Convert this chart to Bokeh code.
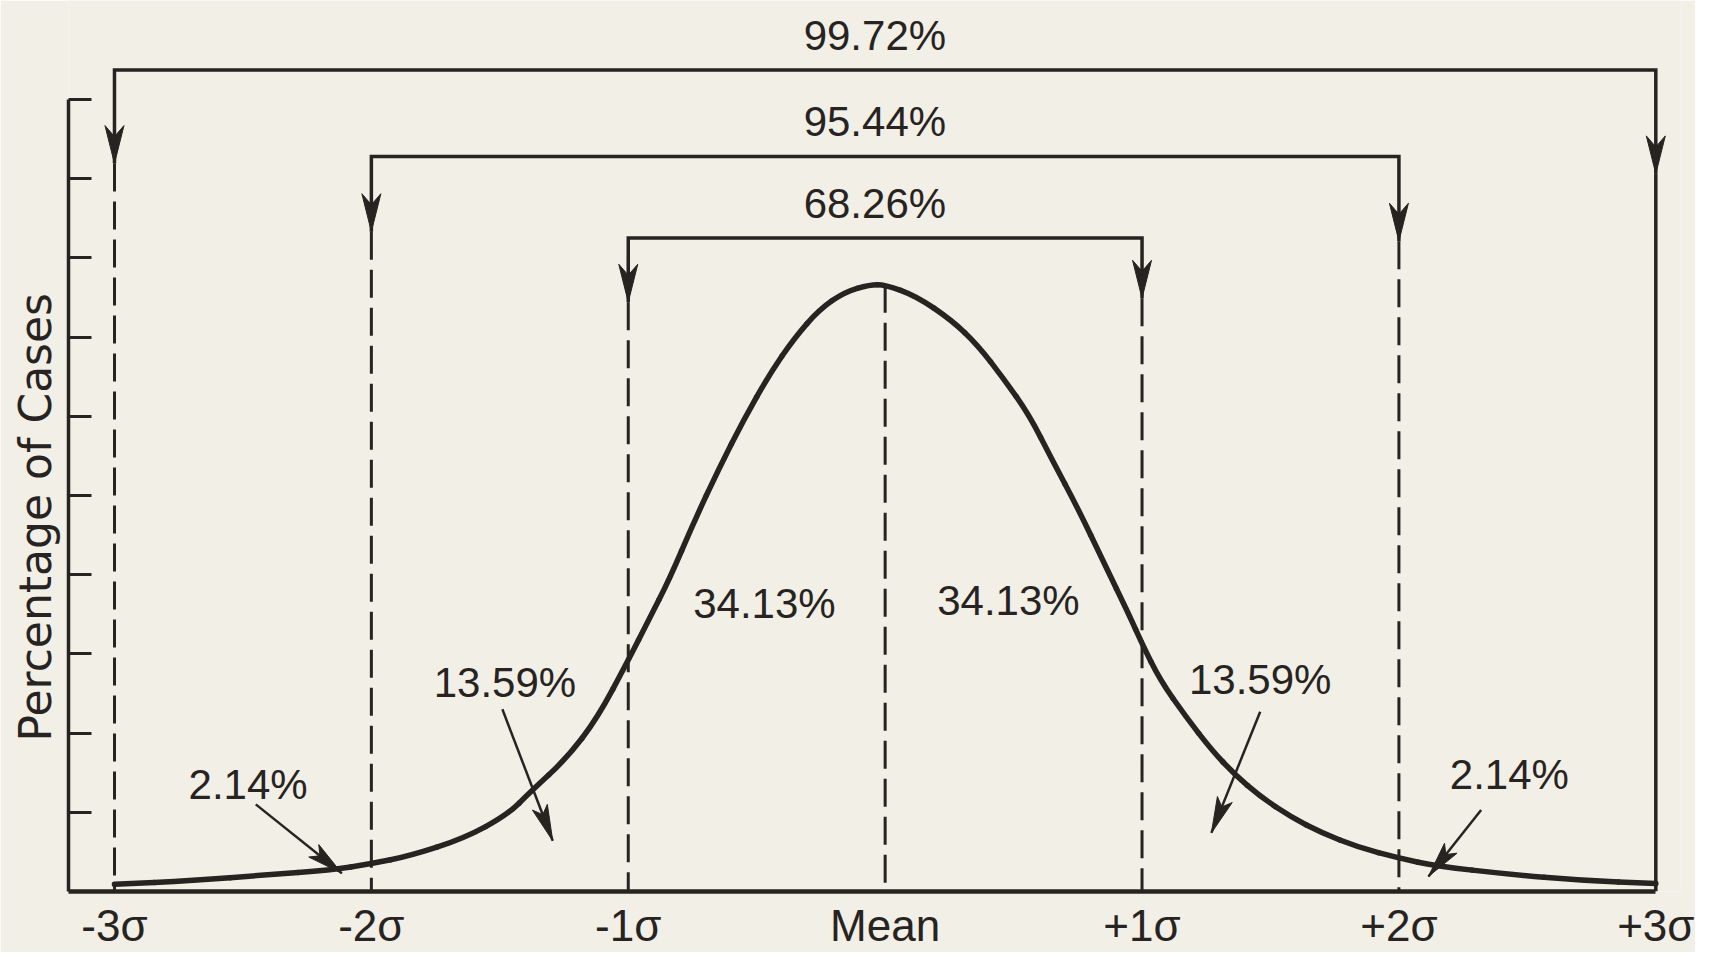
import numpy as np
from bokeh.plotting import figure
from bokeh.models import FixedTicker, Title
from bokeh.core.properties import value
from bokeh.embed import file_html
from bokeh.resources import INLINE

# ---------------- data ----------------
sigma_ticks = [-3, -2, -1, 0, 1, 2, 3]
sigma_labels = ["-3σ", "-2σ", "-1σ", "Mean", "+1σ", "+2σ", "+3σ"]

curve_x = [-3.0, -2.69, -2.41, -2.16, -2.0, -1.85, -1.64, -1.47, -1.38, -1.24,
           -1.12, -1.0, -0.92, -0.84, -0.745, -0.647, -0.55, -0.45, -0.353, -0.255,
           -0.157, -0.06, 0.0, 0.12, 0.26, 0.36, 0.46, 0.56, 0.65, 0.75,
           0.85, 0.95, 1.0, 1.07, 1.17, 1.27, 1.36, 1.46, 1.58, 1.70,
           1.84, 2.0, 2.15, 2.42, 2.71, 3.0]
curve_y = [0.09, 0.14, 0.21, 0.27, 0.35, 0.45, 0.67, 0.97, 1.26, 1.68,
           2.19, 2.92, 3.43, 3.94, 4.66, 5.34, 5.96, 6.53, 6.99, 7.35,
           7.57, 7.66, 7.66, 7.52, 7.21, 6.90, 6.48, 6.02, 5.45, 4.84,
           4.16, 3.49, 3.13, 2.67, 2.21, 1.79, 1.48, 1.20, 0.94, 0.74,
           0.56, 0.42, 0.32, 0.22, 0.14, 0.10]

bracket_labels = ["68.26%", "95.44%", "99.72%"]
bracket_lo = [-1, -2, -3]
bracket_hi = [1, 2, 3]

area_labels = ["2.14%", "13.59%", "34.13%", "34.13%", "13.59%", "2.14%"]

y_ticks = [1, 2, 3, 4, 5, 6, 7, 8, 9, 10]

# ---------------- layout / style ----------------
INK = "#272321"
BG = "#f2efe7"
FONT = "Liberation Sans"

W, H = 1695, 952
PXX = 257.0          # px per sigma
PXY = 79.3           # px per y unit
MEAN_PX = 884
MB_L, MB_T, MB_B = 67, 0, 60
X0 = -(MEAN_PX - MB_L) / PXX
X1 = 3.1
MB_R = int(round(W - MB_L - (X1 - X0) * PXX))
Y0 = 0.0
Y1 = (H - MB_T - MB_B) / PXY

p = figure(width=W, height=H, x_range=(X0, X1), y_range=(Y0, Y1),
           output_backend="svg", toolbar_location=None,
           min_border_left=MB_L, min_border_right=MB_R,
           min_border_top=MB_T, min_border_bottom=MB_B)
p.background_fill_color = BG
p.border_fill_color = BG
p.outline_line_color = None
p.grid.visible = False

# x axis (baseline)
xa = p.xaxis[0]
xa.ticker = FixedTicker(ticks=sigma_ticks)
xa.major_label_overrides = {t: l for t, l in zip(sigma_ticks, sigma_labels)}
xa.major_tick_in = 0
xa.major_tick_out = 0
xa.minor_tick_line_color = None
xa.axis_line_width = 4.5
xa.axis_line_color = INK
xa.bounds = (X0, 3)
xa.major_label_text_font = FONT
xa.major_label_text_font_size = "44px"
xa.major_label_text_color = INK
xa.major_label_standoff = 9

# y axis
ya = p.yaxis[0]
ya.ticker = FixedTicker(ticks=y_ticks)
ya.major_label_overrides = {t: "" for t in y_ticks}
ya.major_tick_in = 23
ya.major_tick_out = 0
ya.major_tick_line_width = 3
ya.major_tick_line_color = INK
ya.minor_tick_line_color = None
ya.axis_line_width = 3.5
ya.axis_line_color = INK
ya.bounds = (0, 10)
ya.major_label_standoff = 0

# y title (vertical, reading upwards)
p.add_layout(Title(text="Percentage of Cases", align="left", offset=150, standoff=15,
                   text_font="DejaVu Sans", text_font_size="44px",
                   text_font_style="normal", text_color=INK), "left")


def head(tx, ty, ux, uy, length, hw, notch):
    """arrow head polygon, tip at (tx, ty) pointing along screen direction (ux, uy)."""
    n = np.hypot(ux, uy)
    ux, uy = ux / n, uy / n
    sx, sy = tx * PXX, ty * PXY
    bx, by = sx - ux * length, sy - uy * length
    nx, ny = -uy, ux
    pts = [(sx, sy), (bx + nx * hw, by + ny * hw),
           (sx - ux * (length - notch), sy - uy * (length - notch)),
           (bx - nx * hw, by - ny * hw)]
    return [q[0] / PXX for q in pts], [q[1] / PXY for q in pts]


# brackets
levels = [8.25, 9.28, 10.37]
tips_l = [7.44, 8.33, 9.19]
tips_r = [7.49, 8.21, 9.06]
hx, hy = [], []
for i in range(3):
    lo, hi = bracket_lo[i], bracket_hi[i]
    p.line([lo, lo, hi, hi], [tips_l[i], levels[i], levels[i], tips_r[i]],
           line_color=INK, line_width=3.5, line_join="miter")
    for xx, tt in ((lo, tips_l[i]), (hi, tips_r[i])):
        a, b = head(xx, tt, 0, -1, 38, 9.5, 11)
        hx.append(a)
        hy.append(b)
p.patches(hx, hy, fill_color=INK, line_color=INK, line_width=1)

# vertical dashed lines down to the baseline
dash_x = [-3, -2, -1, 0, 1, 2]
dash_top = [tips_l[2], tips_l[1], tips_l[0], max(curve_y), tips_r[0], tips_r[1]]
p.segment(x0=dash_x, y0=dash_top, x1=dash_x, y1=[0] * len(dash_x),
          line_color=INK, line_width=3, line_dash="28 10")
# +3 sigma solid line
p.segment(x0=[3], y0=[tips_r[2]], x1=[3], y1=[0], line_color=INK, line_width=3.5)

# curve: drawn through the read points, rounded with quadratic segments
cx = np.array(curve_x)
cy = np.array(curve_y)
mx = (cx[:-1] + cx[1:]) / 2
my = (cy[:-1] + cy[1:]) / 2
p.quadratic(x0=mx[:-1], y0=my[:-1], x1=mx[1:], y1=my[1:], cx=cx[1:-1], cy=cy[1:-1],
            line_color=INK, line_width=5.5, line_cap="round")
p.segment(x0=[cx[0], mx[-1]], y0=[cy[0], my[-1]], x1=[mx[0], cx[-1]], y1=[my[0], cy[-1]],
          line_color=INK, line_width=5.5, line_cap="round")

# bracket labels
p.text(x=[-0.04] * 3, y=[8.68, 9.72, 10.81], text=bracket_labels, text_font=value(FONT),
       text_font_size="42px", text_align="center", text_baseline="middle", text_color=INK)

# area labels
ax_ = [-2.48, -1.48, -0.47, 0.48, 1.46, 2.43]
ay_ = [1.35, 2.64, 3.64, 3.68, 2.68, 1.48]
p.text(x=ax_, y=ay_, text=area_labels, text_font=value(FONT),
       text_font_size="42px", text_align="center", text_baseline="middle", text_color=INK)

# pointer arrows
arrows = [(-2.45, 1.10, -2.115, 0.23), (-1.49, 2.30, -1.294, 0.64),
          (1.46, 2.27, 1.27, 0.74), (2.32, 1.03, 2.115, 0.19)]
p.segment(x0=[a[0] for a in arrows], y0=[a[1] for a in arrows],
          x1=[a[2] for a in arrows], y1=[a[3] for a in arrows],
          line_color=INK, line_width=2.5)
ahx, ahy = [], []
for a in arrows:
    ux = (a[2] - a[0]) * PXX
    uy = (a[3] - a[1]) * PXY
    hx_, hy_ = head(a[2], a[3], ux, uy, 36, 8, 8)
    ahx.append(hx_)
    ahy.append(hy_)
p.patches(ahx, ahy, fill_color=INK, line_color=INK, line_width=1)

open("out.html", "w").write(file_html(p, INLINE))
